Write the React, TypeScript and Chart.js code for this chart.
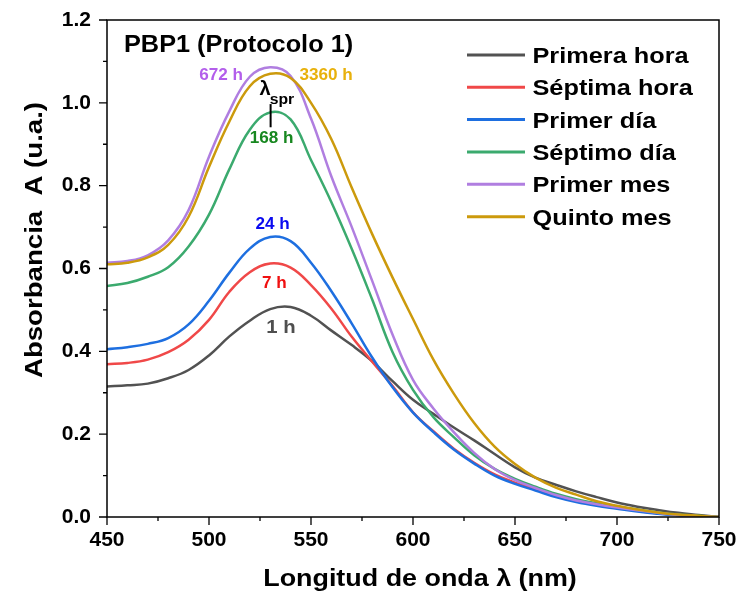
import React, { useEffect, useRef } from "react";
import { Chart, registerables } from "chart.js";

Chart.register(...registerables);

const WAVELENGTH = [450, 460, 470, 480, 490, 500, 510, 520, 530, 540, 550, 560, 570, 580, 590, 600, 610, 620, 630, 640, 650, 660, 670, 680, 690, 700, 710, 720, 730, 740, 750];

const PRIMERA_HORA = [0.315, 0.318, 0.322, 0.335, 0.355, 0.39, 0.436, 0.474, 0.502, 0.507, 0.486, 0.45, 0.415, 0.376, 0.328, 0.283, 0.249, 0.216, 0.185, 0.152, 0.12, 0.095, 0.078, 0.062, 0.048, 0.035, 0.025, 0.017, 0.01, 0.005, 0.0];
const SEPTIMA_HORA = [0.369, 0.372, 0.38, 0.398, 0.428, 0.476, 0.544, 0.591, 0.612, 0.602, 0.56, 0.503, 0.435, 0.375, 0.316, 0.253, 0.207, 0.165, 0.131, 0.103, 0.083, 0.066, 0.051, 0.039, 0.03, 0.022, 0.015, 0.009, 0.005, 0.002, 0.0];
const PRIMER_DIA = [0.405, 0.41, 0.418, 0.432, 0.465, 0.522, 0.59, 0.648, 0.676, 0.666, 0.614, 0.545, 0.467, 0.385, 0.313, 0.252, 0.205, 0.163, 0.129, 0.1, 0.08, 0.064, 0.048, 0.036, 0.027, 0.02, 0.013, 0.008, 0.004, 0.001, 0.0];
const SEPTIMO_DIA = [0.558, 0.565, 0.58, 0.603, 0.653, 0.73, 0.84, 0.935, 0.977, 0.96, 0.862, 0.76, 0.647, 0.525, 0.398, 0.307, 0.241, 0.193, 0.149, 0.116, 0.092, 0.073, 0.056, 0.043, 0.033, 0.025, 0.018, 0.011, 0.006, 0.003, 0.0];
const PRIMER_MES = [0.614, 0.618, 0.632, 0.668, 0.741, 0.87, 0.98, 1.063, 1.086, 1.065, 0.962, 0.822, 0.7, 0.57, 0.44, 0.331, 0.262, 0.205, 0.155, 0.116, 0.089, 0.07, 0.053, 0.04, 0.031, 0.023, 0.016, 0.01, 0.005, 0.002, 0.0];
const QUINTO_MES = [0.61, 0.614, 0.627, 0.657, 0.725, 0.845, 0.955, 1.04, 1.07, 1.06, 1.0, 0.912, 0.795, 0.683, 0.578, 0.478, 0.38, 0.298, 0.227, 0.17, 0.128, 0.095, 0.071, 0.054, 0.038, 0.027, 0.018, 0.011, 0.006, 0.003, 0.0];

const SERIES_LABELS = ["Primera hora", "Séptima hora", "Primer día", "Séptimo día", "Primer mes", "Quinto mes"];
const SERIES_VALUES = [PRIMERA_HORA, SEPTIMA_HORA, PRIMER_DIA, SEPTIMO_DIA, PRIMER_MES, QUINTO_MES];
const SERIES_COLORS = ["#525252", "#F04848", "#1E6FE0", "#3BAA6E", "#B07EE0", "#CC9A0C"];

const X_TICKS = [450, 500, 550, 600, 650, 700, 750];
const X_MINOR = [475, 525, 575, 625, 675, 725];
const Y_TICKS = [0, 0.2, 0.4, 0.6, 0.8, 1.0, 1.2];
const Y_MINOR = [0.1, 0.3, 0.5, 0.7, 0.9, 1.1];

// annotation labels placed at (wavelength, absorbance)
const ANNOT_TEXT = ["672 h", "3360 h", "168 h", "24 h", "7 h", "1 h"];
const ANNOT_X = [505.9, 557.4, 530.7, 531.2, 532.0, 535.3];
const ANNOT_Y = [1.066, 1.066, 0.913, 0.707, 0.564, 0.458];
const ANNOT_COLORS = ["#B35EEB", "#E8B10C", "#17871F", "#0A0AF0", "#F01010", "#4F4F4F"];
const ANNOT_SIZE = [16, 16, 16, 16, 16, 19];
const LAMBDA_POS = [527.5, 1.032];
const LAMBDA_LINE = [530.2, 0.997, 0.941];

const FONT = "'Liberation Sans', Arial, sans-serif";

function drawText(ctx: CanvasRenderingContext2D, s: string, x: number, y: number, size: number, color: string, align: CanvasTextAlign, baseline: CanvasTextBaseline, sx: number) {
  ctx.save();
  ctx.font = `bold ${size}px ${FONT}`;
  ctx.fillStyle = color;
  ctx.textAlign = align;
  ctx.textBaseline = baseline;
  ctx.translate(x, y);
  ctx.scale(sx, 1);
  ctx.fillText(s, 0, 0);
  ctx.restore();
}

const decorPlugin = {
  id: "decor",
  afterDraw(chart: any) {
    const ctx: CanvasRenderingContext2D = chart.ctx;
    const { left, right, top, bottom } = chart.chartArea;
    const xs = chart.scales.x;
    const ys = chart.scales.y;

    // frame
    ctx.save();
    ctx.strokeStyle = "#000";
    ctx.lineWidth = 1.5;
    ctx.strokeRect(left, top, right - left, bottom - top);
    // ticks
    ctx.lineWidth = 1.3;
    ctx.beginPath();
    X_TICKS.forEach((v) => {
      const p = xs.getPixelForValue(v);
      ctx.moveTo(p, bottom);
      ctx.lineTo(p, bottom + 8);
    });
    X_MINOR.forEach((v) => {
      const p = xs.getPixelForValue(v);
      ctx.moveTo(p, bottom);
      ctx.lineTo(p, bottom + 4);
    });
    Y_TICKS.forEach((v) => {
      const p = ys.getPixelForValue(v);
      ctx.moveTo(left, p);
      ctx.lineTo(left - 8, p);
    });
    Y_MINOR.forEach((v) => {
      const p = ys.getPixelForValue(v);
      ctx.moveTo(left, p);
      ctx.lineTo(left - 4, p);
    });
    ctx.stroke();
    ctx.restore();

    // axis titles
    drawText(ctx, "Longitud de onda λ (nm)", 420, 586, 24, "#000", "center", "alphabetic", 1.12);
    ctx.save();
    ctx.translate(42, 240);
    ctx.rotate(-Math.PI / 2);
    ctx.font = `bold 24px ${FONT}`;
    ctx.scale(1.15, 1);
    ctx.fillStyle = "#000";
    ctx.textAlign = "center";
    ctx.textBaseline = "alphabetic";
    ctx.fillText("Absorbancia  A (u.a.)", 0, 0);
    ctx.restore();

    // title
    drawText(ctx, "PBP1 (Protocolo 1)", 124, 52, 23, "#000", "left", "alphabetic", 1.1);

    // legend
    const rowY = [55, 87.3, 119.5, 152, 184.3, 216.7];
    chart.data.datasets.forEach((ds: any, i: number) => {
      const y = rowY[i];
      ctx.save();
      ctx.strokeStyle = ds.borderColor;
      ctx.lineWidth = 3;
      ctx.beginPath();
      ctx.moveTo(467, y);
      ctx.lineTo(525, y);
      ctx.stroke();
      ctx.restore();
      drawText(ctx, ds.label, 532.5, y + 8, 22, "#000", "left", "alphabetic", 1.15);
    });

    // annotations
    ANNOT_TEXT.forEach((t, i) => {
      const px = xs.getPixelForValue(ANNOT_X[i]);
      const py = ys.getPixelForValue(ANNOT_Y[i]);
      drawText(ctx, t, px, py, ANNOT_SIZE[i], ANNOT_COLORS[i], "center", "middle", 1.07);
    });

    // lambda_spr marker
    const lx = xs.getPixelForValue(LAMBDA_POS[0]);
    const ly = ys.getPixelForValue(LAMBDA_POS[1]);
    ctx.save();
    ctx.font = `bold 20px ${FONT}`;
    const lw = ctx.measureText("λ").width;
    ctx.restore();
    drawText(ctx, "λ", lx, ly, 20, "#000", "center", "middle", 1.0);
    drawText(ctx, "spr", lx + lw / 2 - 1, ly + 10, 15, "#000", "left", "middle", 1.05);
    const mx = xs.getPixelForValue(LAMBDA_LINE[0]);
    ctx.save();
    ctx.strokeStyle = "#000";
    ctx.lineWidth = 2;
    ctx.beginPath();
    ctx.moveTo(mx, ys.getPixelForValue(LAMBDA_LINE[1]));
    ctx.lineTo(mx, ys.getPixelForValue(LAMBDA_LINE[2]));
    ctx.stroke();
    ctx.restore();
  },
};

export default function App() {
  const ref = useRef<HTMLCanvasElement | null>(null);

  useEffect(() => {
    if (!ref.current) return;
    const datasets = SERIES_LABELS.map((label, i) => ({
      label,
      data: WAVELENGTH.map((w, j) => ({ x: w, y: SERIES_VALUES[i][j] })),
      borderColor: SERIES_COLORS[i],
      backgroundColor: SERIES_COLORS[i],
      borderWidth: 2.5,
      pointRadius: 0,
      tension: 0.4,
      fill: false,
      order: SERIES_LABELS.length - i,
    }));
    const chart = new Chart(ref.current, {
      type: "line",
      data: { datasets },
      options: {
        responsive: false,
        animation: false,
        devicePixelRatio: 1,
        layout: { padding: { left: 0, right: 19, top: 20, bottom: 0 } },
        plugins: { legend: { display: false }, tooltip: { enabled: false } },
        scales: {
          x: {
            type: "linear",
            min: 450,
            max: 750,
            afterFit: (s: any) => {
              s.height = 82;
              s.paddingLeft = 0;
              s.paddingRight = 0;
            },
            afterBuildTicks: (s: any) => {
              s.ticks = X_TICKS.map((v) => ({ value: v }));
            },
            grid: { display: false, drawTicks: false },
            border: { display: false },
            ticks: {
              padding: 11,
              color: "#000",
              maxRotation: 0,
              font: { family: FONT, size: 21, weight: "bold" },
            },
          },
          y: {
            type: "linear",
            min: 0,
            max: 1.2,
            afterFit: (s: any) => {
              s.width = 107;
              s.paddingTop = 0;
              s.paddingBottom = 0;
            },
            afterBuildTicks: (s: any) => {
              s.ticks = Y_TICKS.map((v) => ({ value: v }));
            },
            grid: { display: false, drawTicks: false },
            border: { display: false },
            ticks: {
              padding: 16,
              color: "#000",
              font: { family: FONT, size: 21, weight: "bold" },
              callback: (v: any) => Number(v).toFixed(1),
            },
          },
        },
      },
      plugins: [decorPlugin],
    });
    return () => chart.destroy();
  }, []);

  return (
    <div style={{ position: "absolute", left: 0, top: 0, width: 738, height: 599, background: "#fff" }}>
      <canvas ref={ref} width={738} height={599} />
    </div>
  );
}
